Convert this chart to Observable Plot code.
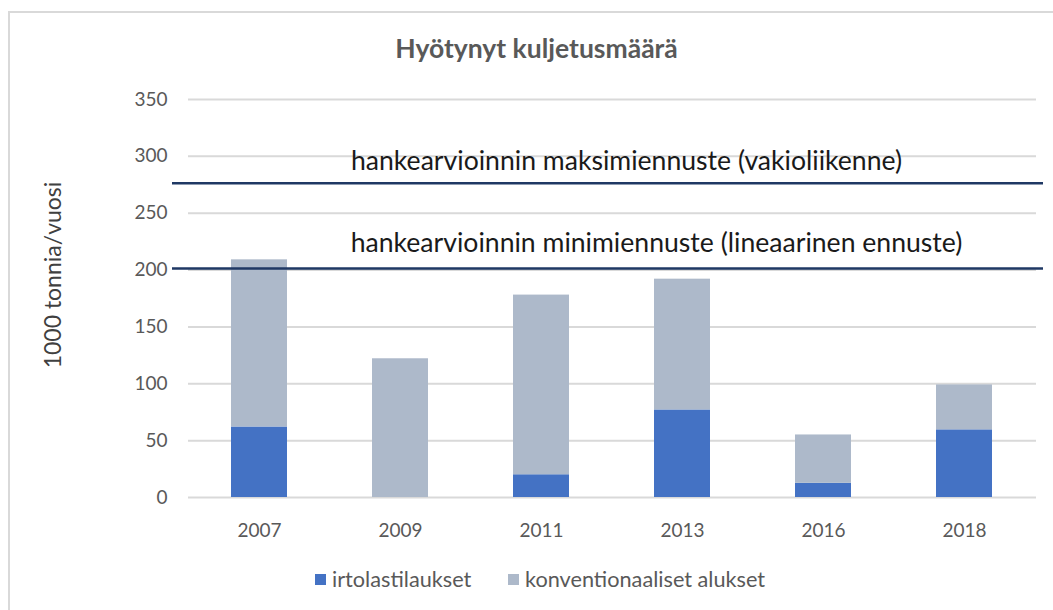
<!DOCTYPE html>
<html>
<head>
<meta charset="utf-8">
<script src="https://cdn.jsdelivr.net/npm/d3@7"></script>
<script src="https://cdn.jsdelivr.net/npm/@observablehq/plot@0.6"></script>
<style>
  html, body { margin: 0; padding: 0; background: #fff; }
  body { width: 1053px; height: 610px; position: relative; overflow: hidden; font-family: Lato, "Open Sans", sans-serif; }
  #frame { position: absolute; left: 8px; top: 11px; width: 1060px; height: 610px; border-left: 2px solid #d9d9d9; border-top: 2px solid #d9d9d9; }
  #title { position: absolute; left: 10px; width: 1053px; top: 31px; text-align: center; font-weight: bold; font-size: 26.5px; line-height: 34px; color: #595959; }
  #ylabel { position: absolute; left: 52px; top: 275px; transform: translate(-50%, -50%) rotate(-90deg); font-size: 23px; color: #404040; white-space: nowrap; }
  #chart { position: absolute; left: 0; top: 60px; }
  #legend { position: absolute; top: 565px; left: 0; width: 1053px; font-size: 21.7px; color: #595959; }
  .item { position: absolute; display: flex; align-items: center; white-space: nowrap; line-height: 28px; }
  .sw { width: 11px; height: 11px; margin-right: 6px; }
</style>
</head>
<body>
<div id="frame"></div>
<div id="title"></div>
<div id="ylabel"></div>
<div id="chart"></div>
<div id="legend"></div>
<script>
const title = "Hyötynyt kuljetusmäärä";
const yLabel = "1000 tonnia/vuosi";
const years = ["2007", "2009", "2011", "2013", "2016", "2018"];
const seriesNames = ["irtolastilaukset", "konventionaaliset alukset"];
const irtolasti = [62, 0, 20, 77, 12.5, 59.5];
const konventionaaliset = [147, 122, 158, 115, 42.5, 39.5];
const seriesColors = ["#4472C4", "#ADB9CA"];
const yTicks = [0, 50, 100, 150, 200, 250, 300, 350];
const forecastNames = ["hankearvioinnin maksimiennuste (vakioliikenne)", "hankearvioinnin minimiennuste (lineaarinen ennuste)"];
const forecastValues = [276.3, 201.3];

document.getElementById("title").textContent = title;
document.getElementById("ylabel").textContent = yLabel;

const rows = [];
years.forEach((y, i) => {
  rows.push({year: y, series: seriesNames[0], value: irtolasti[i]});
  rows.push({year: y, series: seriesNames[1], value: konventionaaliset[i]});
});
const forecasts = forecastNames.map((n, i) => ({name: n, value: forecastValues[i]}));

const chart = Plot.plot({
  width: 1053,
  height: 490,
  marginLeft: 188,
  marginRight: 17,
  marginTop: 39,
  marginBottom: 53,
  style: {fontFamily: "Lato, 'Open Sans', sans-serif", fontSize: "19px", color: "#595959", background: "transparent"},
  x: {domain: years, paddingInner: 0.6, paddingOuter: 0.3, label: null, tickSize: 0, tickPadding: 26},
  y: {domain: [0, 350], ticks: yTicks, label: null, tickSize: 0, tickPadding: 21},
  color: {domain: seriesNames, range: seriesColors},
  marks: [
    Plot.gridY(yTicks, {stroke: "#d9d9d9", strokeOpacity: 1, strokeWidth: 2}),
    Plot.barY(rows, {x: "year", y: "value", fill: "series", order: seriesNames}),
    Plot.ruleY(forecasts, {y: "value", stroke: "#1F3864", strokeWidth: 2.5, insetLeft: -16, insetRight: -7}),
    Plot.text(forecasts.slice(0, 1), {y: "value", text: "name", dx: 14, dy: -22, fill: "#1a1a1a", fontSize: 26.6}),
    Plot.text(forecasts.slice(1, 2), {y: "value", text: "name", dx: 44, dy: -25, fill: "#1a1a1a", fontSize: 26.6})
  ]
});
document.getElementById("chart").appendChild(chart);

const legend = document.getElementById("legend");
const lefts = [315, 508];
seriesNames.forEach((n, i) => {
  const it = document.createElement("div");
  it.className = "item";
  it.style.left = lefts[i] + "px";
  const sw = document.createElement("div");
  sw.className = "sw";
  sw.style.background = seriesColors[i];
  const t = document.createElement("span");
  t.textContent = n;
  it.appendChild(sw); it.appendChild(t);
  legend.appendChild(it);
});
</script>
</body>
</html>
